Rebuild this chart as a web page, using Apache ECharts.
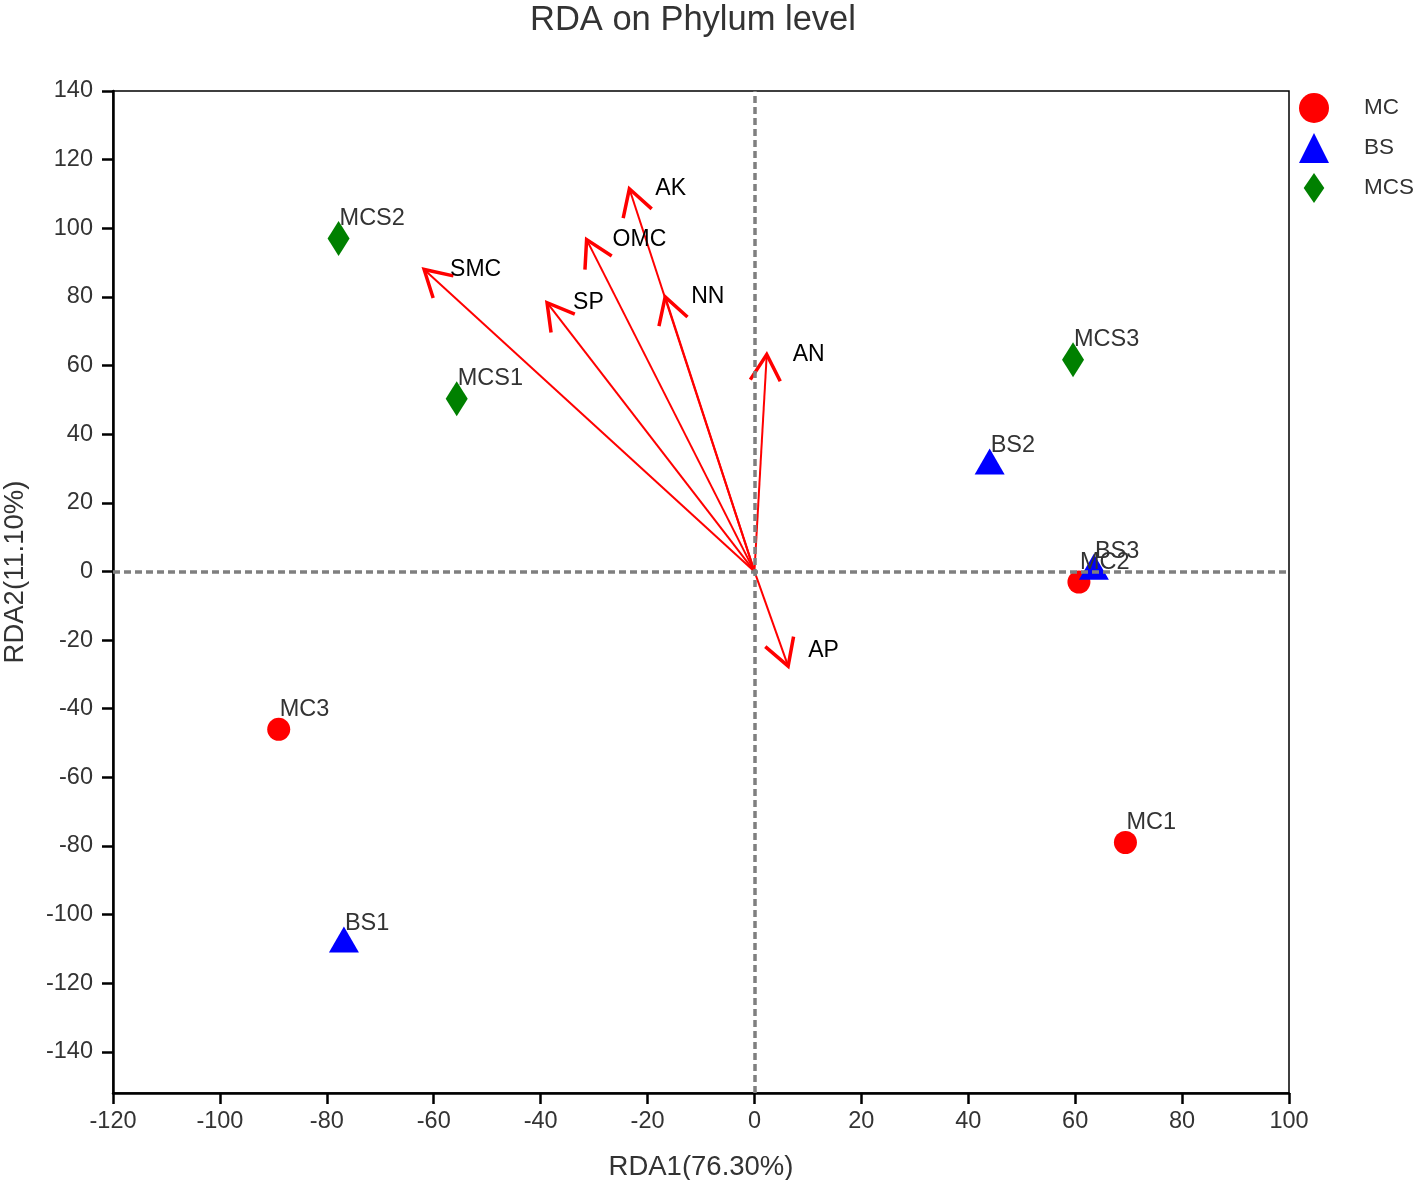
<!DOCTYPE html>
<html>
<head>
<meta charset="utf-8">
<script src="https://cdn.jsdelivr.net/npm/echarts@6/dist/echarts.min.js"></script>
<style>html,body{margin:0;padding:0;background:#fff}#c{width:1416px;height:1180px}</style>
</head>
<body>
<div id="c"></div>
<script>
// ---- data ----
const mcNames = ['MC1', 'MC2', 'MC3'];
const mcX = [69.4, 60.7, -89.0];
const mcY = [-79.0, -3.1, -46.0];
const bsNames = ['BS1', 'BS2', 'BS3'];
const bsX = [-76.8, 44.0, 63.5];
const bsY = [-108.5, 30.8, 0.1];
const mcsNames = ['MCS1', 'MCS2', 'MCS3'];
const mcsX = [-55.7, -77.8, 59.6];
const mcsY = [50.3, 97.0, 61.7];
const envNames = ['AK', 'OMC', 'SMC', 'SP', 'NN', 'AN', 'AP'];
const envX = [-23.4, -31.4, -61.8, -38.8, -16.7, 2.3, 6.3];
const envY = [111.5, 96.7, 88.0, 78.3, 80.0, 63.2, -27.6];
const yTicks = [-140, -120, -100, -80, -60, -40, -20, 0, 20, 40, 60, 80, 100, 120, 140];

const FONT = "'Liberation Sans', Arial, Helvetica, sans-serif";
const zip = (n, x, y) => n.map((s, i) => ({ name: s, value: [x[i], y[i]] }));

const labelShift = { AP: [20, -15] };

function arrowItem(params, api) {
  const o = api.coord([0, 0]);
  const t = api.coord([api.value(0), api.value(1)]);
  const name = envNames[params.dataIndex];
  const dx = o[0] - t[0], dy = o[1] - t[1];
  const len = Math.sqrt(dx * dx + dy * dy);
  const ux = dx / len, uy = dy / len;
  const L = 30, a = 30 * Math.PI / 180;
  const ca = Math.cos(a), sa = Math.sin(a);
  const w1 = [t[0] + L * (ux * ca - uy * sa), t[1] + L * (ux * sa + uy * ca)];
  const w2 = [t[0] + L * (ux * ca + uy * sa), t[1] + L * (-ux * sa + uy * ca)];
  const sh = labelShift[name] || [26, 0];
  return {
    type: 'group',
    children: [
      { type: 'line', shape: { x1: o[0], y1: o[1], x2: t[0], y2: t[1] },
        style: { stroke: '#ff0000', lineWidth: 2 } },
      { type: 'polyline', shape: { points: [w1, t, w2] },
        style: { stroke: '#ff0000', lineWidth: 3.5, fill: null } },
      { type: 'text', x: t[0] + sh[0], y: t[1] + sh[1],
        style: { text: name, fill: '#000', font: '23px ' + FONT, textAlign: 'left', textVerticalAlign: 'middle' } }
    ]
  };
}

const ptLabel = (dy) => ({
  show: true, position: 'inside', align: 'left', verticalAlign: 'middle',
  offset: [1, dy], formatter: '{b}', color: '#333', fontSize: 23.5, fontFamily: FONT
});

const chart = echarts.init(document.getElementById('c'));
chart.setOption({
  animation: false,
  backgroundColor: '#fff',
  title: {
    text: 'RDA on Phylum level', left: 525, top: -2,
    textStyle: { fontSize: 34.5, fontWeight: 'normal', color: '#333', fontFamily: FONT }
  },
  legend: {
    orient: 'vertical', left: 1294, top: 88, itemWidth: 30, itemHeight: 30, itemGap: 10,
    textStyle: { fontSize: 22.5, color: '#333', fontFamily: FONT, padding: [0, 0, 0, 30] },
    data: [
      { name: 'MC', icon: 'circle' },
      { name: 'BS', icon: 'triangle' },
      { name: 'MCS', icon: 'path://M11,0L22,16L11,32L0,16Z' }
    ]
  },
  grid: { left: 113, right: 127, top: 91, bottom: 87, outerBoundsMode: 'none', containLabel: false,
    show: true, borderColor: '#000', borderWidth: 1.5, backgroundColor: 'transparent' },
  xAxis: {
    type: 'value', min: -120, max: 100, interval: 20,
    name: 'RDA1(76.30%)', nameLocation: 'middle', nameGap: 60,
    nameTextStyle: { fontSize: 27.5, color: '#333', fontFamily: FONT },
    axisLine: { show: true, onZero: false, lineStyle: { color: '#000', width: 2.5 } },
    axisTick: { show: true, length: 11, lineStyle: { color: '#000', width: 2.5 } },
    axisLabel: { fontSize: 23.5, color: '#333', fontFamily: FONT, margin: 17 },
    splitLine: { show: false }
  },
  yAxis: {
    type: 'value', min: -152, max: 140,
    name: 'RDA2(11.10%)', nameLocation: 'middle', nameGap: 84,
    nameTextStyle: { fontSize: 27.5, color: '#333', fontFamily: FONT, padding: [0, 0, 0, 40] },
    axisLine: { show: true, onZero: false, lineStyle: { color: '#000', width: 2.5 } },
    axisTick: { show: true, length: 11, customValues: yTicks, lineStyle: { color: '#000', width: 2.5 } },
    axisLabel: { fontSize: 23.5, color: '#333', fontFamily: FONT, margin: 20, customValues: yTicks },
    splitLine: { show: false }
  },
  series: [
    {
      type: 'line', data: [], silent: true, z: 1,
      markLine: {
        symbol: 'none', silent: true, label: { show: false },
        lineStyle: { color: '#7f7f7f', width: 3.5, type: [7, 4] },
        data: [{ xAxis: 0 }, { yAxis: 0 }]
      }
    },
    {
      type: 'custom', name: 'env', renderItem: arrowItem, z: 3,
      data: envX.map((x, i) => [x, envY[i]])
    },
    {
      type: 'scatter', name: 'MC', symbol: 'circle', symbolSize: 23, z: 4,
      itemStyle: { color: '#ff0000', opacity: 1 },
      label: ptLabel(-20), data: zip(mcNames, mcX, mcY)
    },
    {
      type: 'scatter', name: 'BS', symbol: 'triangle', symbolSize: [30, 26], symbolOffset: [0, -4.3], z: 4,
      itemStyle: { color: '#0000ff', opacity: 1 },
      label: ptLabel(-15.7), data: zip(bsNames, bsX, bsY)
    },
    {
      type: 'scatter', name: 'MCS', symbol: 'diamond', symbolSize: [22, 35], z: 4,
      itemStyle: { color: '#008000', opacity: 1 },
      label: ptLabel(-20), data: zip(mcsNames, mcsX, mcsY)
    }
  ]
});
</script>
</body>
</html>
